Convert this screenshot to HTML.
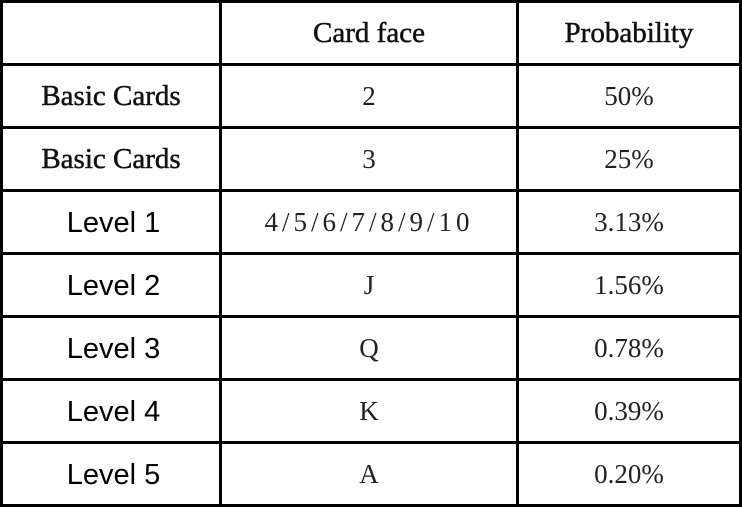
<!DOCTYPE html>
<html><head><meta charset="utf-8"><style>
body{margin:0;width:742px;height:507px;background:#fff;overflow:hidden;position:relative}
.c{position:absolute;display:flex;align-items:center;justify-content:center;box-sizing:border-box;font-family:"Liberation Serif",serif;font-size:27px;color:#222}
.b{font-size:29px;color:#111;-webkit-text-stroke:0.5px #111}
.h{position:absolute;background:#000}
.s{font-family:"Liberation Sans",sans-serif;font-size:29px;color:#000;padding-left:5px;padding-top:3px}
.w{letter-spacing:4px}
</style></head><body>
<div id="t"></div>
<script>
const rowLabels=["","Basic Cards","Basic Cards","Level 1","Level 2","Level 3","Level 4","Level 5"];
const faces=["Card face","2","3","4/5/6/7/8/9/10","J","Q","K","A"];
const probs=["Probability","50%","25%","3.13%","1.56%","0.78%","0.39%","0.20%"];
const t=document.getElementById('t');
const cols=[0,219,516,739];
const rowH=63;
for(let r=0;r<8;r++){
  [rowLabels[r],faces[r],probs[r]].forEach((txt,ci)=>{
    const d=document.createElement('div');
    let cls='c';
    if(ci===0&&r>=3) cls+=' s';
    else if(ci===0||r===0) cls+=' b';
    if(ci===1&&r===3) cls+=' w';
    d.className=cls;
    
    
    d.style.left=(cols[ci]+3)+'px';d.style.width=(cols[ci+1]-cols[ci]-3)+'px';
    d.style.top=(r*rowH+3)+'px';d.style.height=(rowH-3)+'px';
    d.textContent=txt;t.appendChild(d);
  });
}
for(let r=0;r<=8;r++){
  const l=document.createElement('div');l.className='h';
  
  
  l.style.left='0px';l.style.width='742px';l.style.top=(r*rowH)+'px';l.style.height='3px';t.appendChild(l);
}
cols.forEach(x=>{
  const l=document.createElement('div');l.className='h';
  
  
  l.style.left=x+'px';l.style.width='3px';l.style.top='0px';l.style.height='507px';t.appendChild(l);
});
</script>
</body></html>
